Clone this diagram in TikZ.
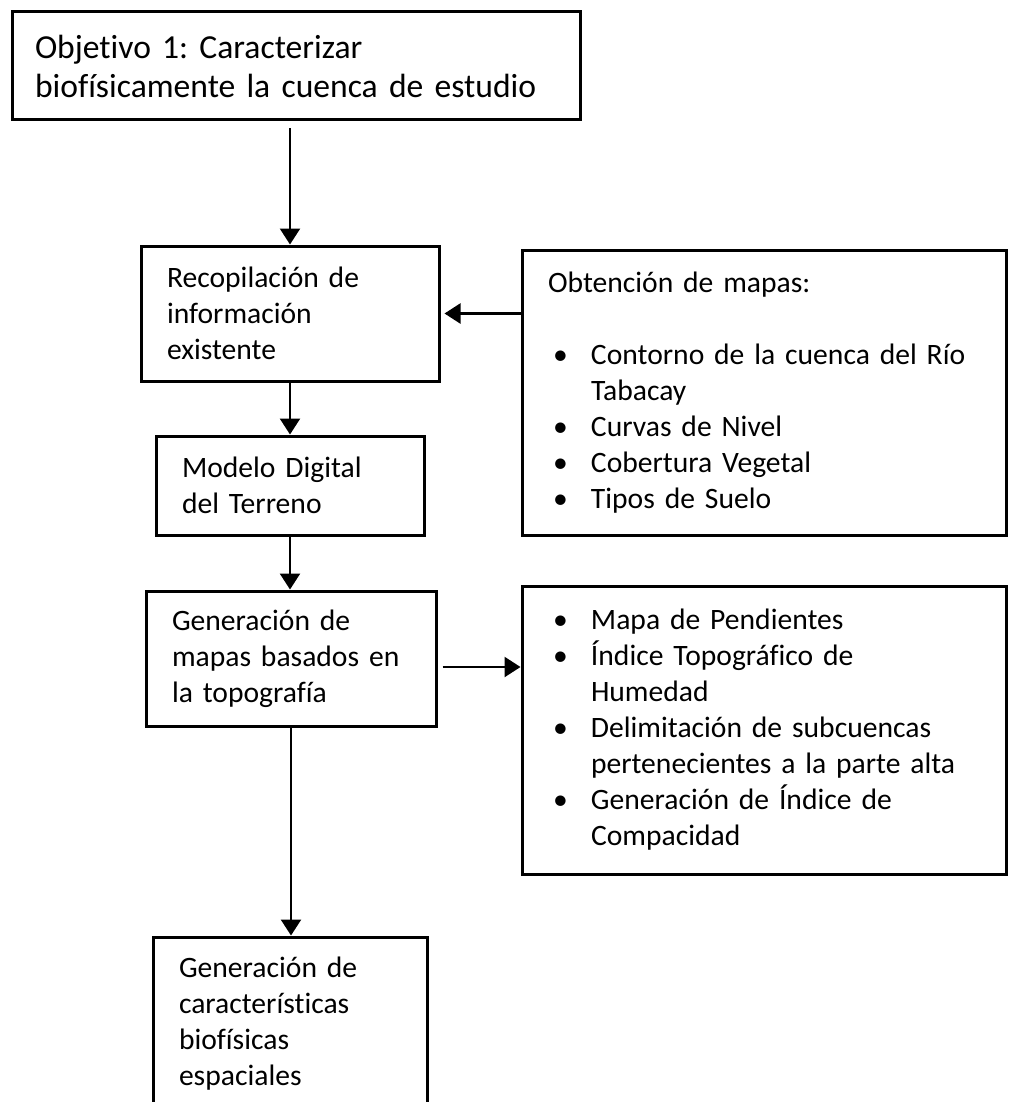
\documentclass[tikz,border=0pt]{standalone}
\usepackage{fontspec}
\setmainfont{Carlito}[Ligatures=NoCommon]
\usetikzlibrary{arrows.meta}
\frenchspacing

\tikzset{
  caja/.style={draw, line width=1.5pt, align=left, inner xsep=13pt, inner ysep=0pt,
    font=\fontsize{14.8}{18}\selectfont},
  flecha/.style={line width=1.2pt, -{Triangle[length=8pt,width=10pt]}},
}
\newcommand{\bul}{\hspace*{2.5pt}\makebox[19pt][l]{\textbullet}}
\newcommand{\sig}{\hspace*{21.5pt}}

\begin{document}
\begin{tikzpicture}[x=0.5pt,y=-0.5pt]
\useasboundingbox (0,0) rectangle (1008,1102);
\fill[white] (0,0) rectangle (1008,1102);
\clip (0,0) rectangle (1008,1102);

\node[caja, text width=261pt, inner xsep=11.5pt, minimum height=54pt,
  font=\fontsize{16.8}{19.5}\selectfont] (objetivo) at (296,66)
  {Objetivo 1: Caracterizar\\biofísicamente la cuenca de estudio};
\node[caja, text width=123pt, minimum height=67.5pt] (recop) at (290,313.5)
  {Recopilación de\\información\\existente};
\node[caja, text width=108pt, minimum height=49.5pt] (modelo) at (290,485.5)
  {Modelo Digital\\del Terreno};
\node[caja, text width=119pt, minimum height=67.5pt] (generacion) at (291,658.5)
  {Generación de\\mapas basados en\\la topografía};
\node[caja, text width=111pt, minimum height=87pt] (caract) at (290,1024)
  {Generación de\\características\\biofísicas\\espaciales};

\node[caja, text width=216pt, minimum height=142.5pt] (obtencion) at (764,392.5)
  {Obtención de mapas:\\[18pt]
   \bul Contorno de la cuenca del Río\\
   \sig Tabacay\\
   \bul Curvas de Nivel\\
   \bul Cobertura Vegetal\\
   \bul Tipos de Suelo};
\node[caja, text width=216pt, minimum height=144pt] (indices) at (764,730)
  {\bul Mapa de Pendientes\\
   \bul Índice Topográfico de\\
   \sig Humedad\\
   \bul Delimitación de subcuencas\\
   \sig pertenecientes a la parte alta\\
   \bul Generación de Índice de\\
   \sig Compacidad};

\coordinate (g1) at ([yshift=-4.25pt]generacion.east);

\draw[flecha, shorten <=3.5pt] (objetivo.south -| recop.north) -- (recop.north);
\draw[flecha] (recop.south) -- (modelo.north);
\draw[flecha] (modelo.south) -- (modelo.south |- generacion.north);
\draw[flecha] (generacion.south) -- (generacion.south |- caract.north);
\draw[flecha, shorten >=2pt] (obtencion.west |- recop.east) -- (recop.east);
\draw[flecha, shorten <=2.5pt] (g1) -- (g1 -| indices.west);
\end{tikzpicture}
\end{document}
